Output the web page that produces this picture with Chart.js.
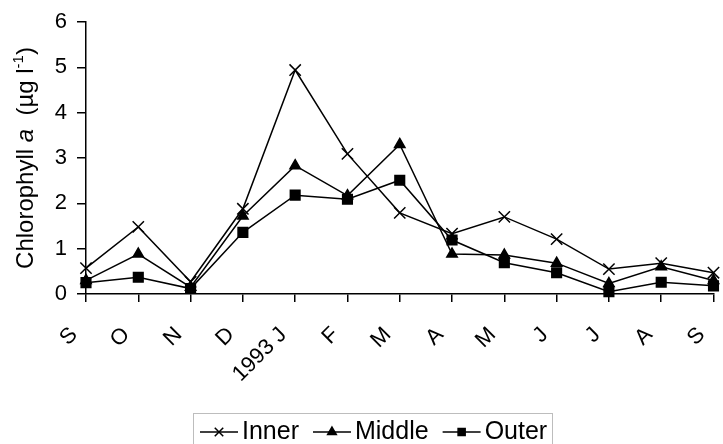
<!DOCTYPE html>
<html>
<head>
<meta charset="utf-8">
<script src="https://cdn.jsdelivr.net/npm/chart.js@4/dist/chart.umd.min.js"></script>
<style>
  html, body { margin: 0; padding: 0; background: #fff; }
  #wrap { width: 723px; height: 444px; position: relative; }
</style>
</head>
<body>
<div id="wrap"><canvas id="chl"></canvas></div>
<script>
// months, Sep 1992 -> Sep 1993
const months = ['S', 'O', 'N', 'D', '1993 J', 'F', 'M', 'A', 'M', 'J', 'J', 'A', 'S'];

// chlorophyll a (ug/l)
const inner  = [0.57, 1.48, 0.27, 1.88, 4.94, 3.09, 1.79, 1.33, 1.70, 1.21, 0.55, 0.68, 0.47];
const middle = [0.30, 0.88, 0.15, 1.72, 2.83, 2.17, 3.30, 0.88, 0.86, 0.68, 0.23, 0.60, 0.30];
const outer  = [0.25, 0.37, 0.12, 1.36, 2.18, 2.09, 2.51, 1.19, 0.69, 0.47, 0.05, 0.26, 0.18];

const yTicks = [0, 1, 2, 3, 4, 5, 6];

const FONT = "'Liberation Sans', Arial, sans-serif";

// y title with italic "a" and superscript -1
const yTitlePlugin = {
    id: 'yTitle',
    afterDraw(chart) {
        const ctx = chart.ctx;
        const area = chart.chartArea;
        const parts = [
            { t: 'Chlorophyll ', f: '24px ' + FONT, dy: 0 },
            { t: 'a', f: 'italic 24px ' + FONT, dy: 0 },
            { t: '  (µg l', f: '24px ' + FONT, dy: 0 },
            { t: '-1', f: '15px ' + FONT, dy: -10 },
            { t: ')', f: '24px ' + FONT, dy: 0 }
        ];
        let total = 0;
        parts.forEach(p => { ctx.font = p.f; p.w = ctx.measureText(p.t).width; total += p.w; });
        ctx.save();
        ctx.translate(33, (area.top + area.bottom) / 2);
        ctx.rotate(-Math.PI / 2);
        ctx.fillStyle = '#000';
        ctx.textBaseline = 'alphabetic';
        let x = -total / 2;
        parts.forEach(p => {
            ctx.font = p.f;
            ctx.fillText(p.t, x, p.dy);
            x += p.w;
        });
        ctx.restore();
    }
};

// boxed legend with line + marker like the original
const boxLegendPlugin = {
    id: 'boxLegend',
    afterDraw(chart) {
        const ctx = chart.ctx;
        const cy = 432;
        ctx.save();
        ctx.strokeStyle = '#bdbdbd';
        ctx.lineWidth = 1;
        ctx.strokeRect(193.5, 413.5, 359, 40);
        ctx.font = '25px ' + FONT;
        ctx.textBaseline = 'middle';
        ctx.fillStyle = '#000';
        let x = 200;
        chart.data.datasets.forEach(ds => {
            ctx.strokeStyle = '#000';
            ctx.lineWidth = 1.5;
            ctx.beginPath();
            ctx.moveTo(x, cy);
            ctx.lineTo(x + 38, cy);
            ctx.stroke();
            Chart.helpers.drawPoint(ctx, {
                pointStyle: ds.pointStyle,
                radius: ds.legendRadius,
                borderWidth: 1.2,
                rotation: 0
            }, x + 19, cy);
            ctx.fillStyle = '#000';
            ctx.fillText(ds.label, x + 42, cy);
            x += 42 + ctx.measureText(ds.label).width + 14;
        });
        ctx.restore();
    }
};

const ctx = document.getElementById('chl');

new Chart(ctx, {
    type: 'line',
    data: {
        labels: months,
        datasets: [
            { label: 'Inner', data: inner, pointStyle: 'crossRot', pointRadius: 8, legendRadius: 6 },
            { label: 'Middle', data: middle, pointStyle: 'triangle', pointRadius: 6, legendRadius: 5 },
            { label: 'Outer', data: outer, pointStyle: 'rect', pointRadius: 6.8, legendRadius: 5 }
        ].map(d => Object.assign(d, {
            borderColor: '#000',
            backgroundColor: '#000',
            pointBackgroundColor: '#000',
            pointBorderColor: '#000',
            borderWidth: 1.5,
            pointBorderWidth: 1.5,
            tension: 0,
            clip: false
        }))
    },
    options: {
        responsive: true,
        maintainAspectRatio: false,
        animation: false,
        devicePixelRatio: 1,
        layout: { padding: { top: 22, right: 1, left: 0, bottom: 0 } },
        plugins: {
            legend: { display: false },
            tooltip: { enabled: false }
        },
        scales: {
            x: {
                offset: false,
                grid: { display: true, drawOnChartArea: false, drawTicks: true, tickLength: 8, color: '#000', lineWidth: 1.5 },
                border: { display: true, color: '#000', width: 1.5 },
                ticks: {
                    color: '#000',
                    font: { family: FONT, size: 22 },
                    minRotation: 45,
                    maxRotation: 45,
                    padding: 20,
                    labelOffset: -12,
                    autoSkip: false
                },
                afterFit(scale) {
                    scale.height = 150;
                    scale.paddingLeft = 0;
                    scale.paddingRight = 0;
                }
            },
            y: {
                min: 0,
                max: 6,
                grid: { display: true, drawOnChartArea: false, drawTicks: true, tickLength: 9, color: '#000', lineWidth: 1.5 },
                border: { display: true, color: '#000', width: 1.5 },
                afterBuildTicks(scale) {
                    scale.ticks = yTicks.map(v => ({ value: v }));
                },
                ticks: {
                    color: '#000',
                    font: { family: FONT, size: 22 },
                    padding: 10
                },
                afterFit(scale) {
                    scale.width = 86;
                    scale.paddingTop = 0;
                    scale.paddingBottom = 0;
                }
            }
        }
    },
    plugins: [yTitlePlugin, boxLegendPlugin]
});
</script>
</body>
</html>
